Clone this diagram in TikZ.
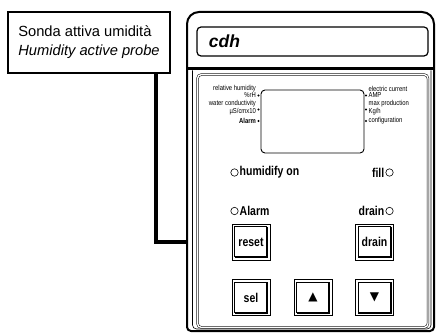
\documentclass[tikz,border=0pt]{standalone}
\usepackage{fontspec}
\setmainfont{Liberation Sans}
\newfontfamily\narrowfont{Liberation Sans}[FakeStretch=0.82]
\newfontfamily\symfont{DejaVu Sans}
\usetikzlibrary{positioning}

\begin{document}
\begin{tikzpicture}[
  x=1pt, y=-1pt,
  callout/.style={draw, line width=1.1pt, minimum width=162pt, minimum height=61pt, align=left, font=\fontsize{14.7}{19}\selectfont},
  lead/.style={line width=4pt, line join=miter},
  tag/.style={font=\narrowfont\fontsize{7.2}{8}\selectfont, inner sep=0.5pt},
  pin/.style={circle, fill, inner sep=0pt, minimum size=2.4pt},
  led/.style={circle, draw, line width=0.6pt, inner sep=0pt, minimum size=7.4pt},
  caption/.style={font=\narrowfont\bfseries\fontsize{12.8}{14}\selectfont, inner sep=1pt},
  btn/.style={draw, line width=0.6pt, minimum width=38pt, minimum height=36pt, inner sep=0pt, font=\narrowfont\bfseries\fontsize{12.8}{14}\selectfont}
]
\useasboundingbox (0,0) rectangle (438,334);

% probe callout
\node[callout] (probe) at (89,42.5) {Sonda attiva umidità\\\textit{Humidity active probe}};

% housing
\draw[line width=2pt] (187,300) [rounded corners=12pt] -- (187,12) -- (434,12) -- (434,40) [rounded corners=4pt] -- (434,331) -- (187,331) -- cycle;
\fill (187,67) rectangle (434,70.5);
\node[draw, line width=1.2pt, rounded corners=4pt, minimum width=231pt, minimum height=29pt] (header) at (312.5,41.5) {};
\node[anchor=west, xshift=9pt, font=\bfseries\itshape\fontsize{17.5}{20}\selectfont] (model) at (header.west) {cdh};
\draw[line width=0.6pt, rounded corners=4pt] (192.5,70.5) -- (192.5,329) -- (431,329) -- (431,70.5);
\node[draw, line width=0.5pt, double, double distance=1.4pt, rounded corners=4pt, minimum width=230.5pt, minimum height=253pt] (panel) at (312.75,201) {};

% display
\node[draw, line width=0.9pt, rounded corners=4pt, minimum width=103pt, minimum height=63pt] (lcd) at (312.5,121.5) {};
\foreach \n/\y in {1/95.5, 2/109.5, 3/121} {
  \node[pin] (lp\n) at (258.5,\y) {};
  \node[pin] (rp\n) at (366,\y) {};
}
\node[tag, left=0.5pt of lp1] (rh) {\%rH};
\node[tag, above=0pt of rh.north east, anchor=south east] {relative humidity};
\node[tag, left=0.5pt of lp2, yshift=-2.5pt] (cond) {µS/cmx10};
\node[tag, above=0pt of cond.north east, anchor=south east] {water conductivity};
\node[tag, left=0.5pt of lp3] {\textbf{Alarm}};
\node[tag, right=0.5pt of rp1] (amp) {AMP};
\node[tag, above=0pt of amp.north west, anchor=south west] {electric current};
\node[tag, right=0.5pt of rp2, yshift=-2.5pt] (kgh) {Kg/h};
\node[tag, above=0pt of kgh.north west, anchor=south west] {max production};
\node[tag, right=0.5pt of rp3] {configuration};

% leds
\node[led] (ledhum) at (234.5,172.5) {};
\node[led] (ledfill) at (389.5,172.5) {};
\node[led] (ledalarm) at (234.5,211) {};
\node[led] (leddrain) at (389.5,211) {};
\node[caption, right=0pt of ledhum] {humidify on};
\node[caption, left=0pt of ledfill] {fill};
\node[caption, right=0pt of ledalarm] {Alarm};
\node[caption, left=0pt of leddrain] {drain};

% keys
\node[btn] (reset) at (251,242) {reset};
\node[btn] (drainbtn) at (374.5,242) {drain};
\node[btn] (sel) at (251,297.5) {sel};
\node[btn] (up) at (313,297.5) {\symfont\fontsize{12}{12}\selectfont ▲};
\node[btn] (down) at (374.5,297.5) {\symfont\fontsize{12}{12}\selectfont ▼};
\foreach \b in {reset,drainbtn,sel,up,down} {
  \draw[line width=1.8pt] ([shift={(-3pt,-3pt)}]\b.north east) |- ([shift={(3pt,3pt)}]\b.south west);
  \draw[line width=0.6pt] ([shift={(3pt,3pt)}]\b.south west) |- ([shift={(-3pt,-3pt)}]\b.north east);
}

% probe lead into the housing
\coordinate (jack) at (187,241.5);
\draw[lead] (probe.south east) ++(-15,0) |- (jack);
\end{tikzpicture}
\end{document}
